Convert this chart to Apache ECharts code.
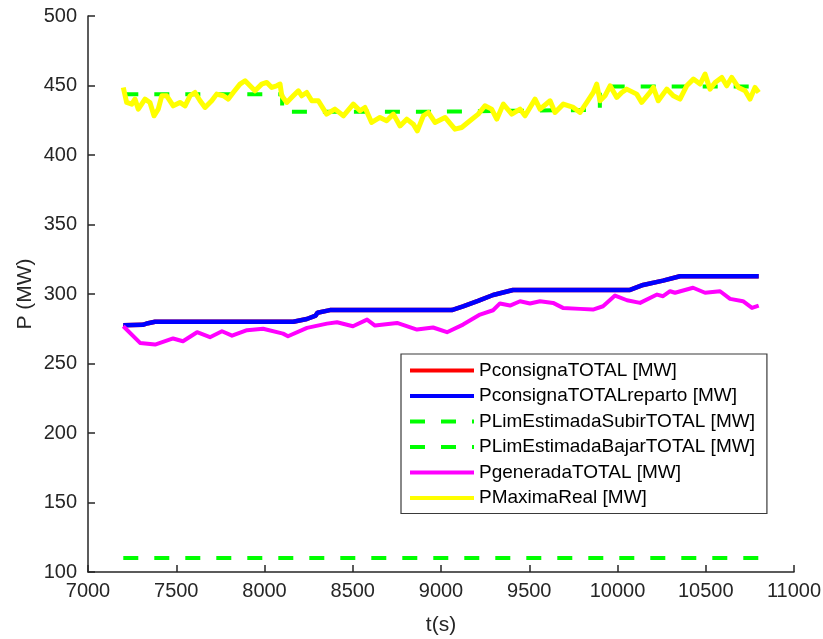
<!DOCTYPE html>
<html>
<head>
<meta charset="utf-8">
<script src="https://cdn.jsdelivr.net/npm/echarts@6/dist/echarts.min.js"></script>
<style>
  html, body { margin: 0; padding: 0; background: #fff; }
  #chart { width: 823px; height: 639px; }
</style>
</head>
<body>
<div id="chart"></div>
<script>
// Axis ticks
const xTicks = [7000, 7500, 8000, 8500, 9000, 9500, 10000, 10500, 11000];
const yTicks = [100, 150, 200, 250, 300, 350, 400, 450, 500];

// Setpoint (total) and distributed setpoint: identical curves, t in s, P in MW
const tConsigna = [7200, 7310, 7340, 7380, 8163, 8240, 8290, 8300, 8371, 9061, 9125, 9210, 9295, 9408, 10071, 10145, 10258, 10354, 10800];
const pConsigna = [277.5, 277.8, 279, 280, 280, 282, 284.5, 286.5, 288.4, 288.4, 291.1, 295, 299.3, 302.9, 302.9, 306.5, 309.6, 312.8, 312.8];
const pConsignaReparto = [277.5, 277.8, 279, 280, 280, 282, 284.5, 286.5, 288.4, 288.4, 291.1, 295, 299.3, 302.9, 302.9, 306.5, 309.6, 312.8, 312.8];

// Estimated upper limit, updated every 15 minutes
const tLimSubir = [7200, 8100, 9000, 9900, 10800];
const pLimSubir = [443.7, 431.2, 432.5, 449.2, 449.2];

// Estimated lower limit
const tLimBajar = [7200, 10800];
const pLimBajar = [110, 110];

// Generated power
const tGenerada = [7200, 7295, 7380, 7482, 7538, 7618, 7691, 7759, 7816, 7901, 7992, 8105, 8133, 8241, 8354, 8411, 8501, 8581, 8626, 8751, 8864, 8955, 9034, 9125, 9221, 9295, 9334, 9391, 9448, 9504, 9561, 9635, 9691, 9788, 9861, 9918, 9986, 10054, 10128, 10224, 10258, 10298, 10326, 10428, 10496, 10581, 10638, 10711, 10762, 10800];
const pGenerada = [276.8, 264.8, 263.6, 268, 266, 272.5, 268.9, 273.2, 270, 274, 275, 271.5, 269.6, 275.6, 278.7, 279.7, 276.8, 281.6, 277.3, 279.2, 274.4, 275.9, 272.5, 278, 285.2, 288.3, 293.2, 291.7, 294.8, 293.2, 294.8, 293.6, 290, 289.3, 288.8, 291.2, 298.9, 295.5, 293.6, 299.6, 298.4, 302, 300.9, 304.5, 300.9, 302, 296.5, 294.8, 290, 291.7];

// Real maximum available power
const tMaxima = [7200, 7219, 7248, 7266, 7285, 7323, 7351, 7374, 7398, 7418, 7446, 7483, 7521, 7550, 7578, 7606, 7635, 7663, 7701, 7729, 7767, 7795, 7823, 7861, 7890, 7918, 7946, 7984, 8013, 8041, 8069, 8088, 8098, 8126, 8163, 8192, 8211, 8239, 8268, 8305, 8352, 8399, 8447, 8503, 8541, 8569, 8607, 8654, 8692, 8730, 8768, 8806, 8843, 8866, 8900, 8928, 8966, 9023, 9079, 9117, 9164, 9211, 9249, 9287, 9316, 9353, 9401, 9448, 9476, 9533, 9561, 9618, 9646, 9693, 9750, 9788, 9826, 9863, 9882, 9901, 9929, 9958, 9996, 10024, 10052, 10109, 10137, 10184, 10203, 10231, 10279, 10316, 10354, 10392, 10430, 10468, 10496, 10524, 10553, 10591, 10619, 10647, 10685, 10723, 10751, 10779, 10800];
const pMaxima = [448.6, 437.8, 436.6, 440.2, 433, 440.2, 437.8, 428.2, 433, 442.6, 442.6, 435.4, 437.8, 435.4, 442.6, 445, 439, 434.2, 439, 443.8, 442.6, 440.2, 445, 451, 453.4, 449.8, 446.2, 451, 452.2, 448.6, 449.8, 451, 442.6, 437.8, 442.6, 446.2, 442.6, 445, 439, 439, 429.4, 433, 428.2, 436.6, 431.8, 434.2, 423.4, 427, 424.6, 429.4, 420.9, 425.8, 422.2, 417.3, 428.2, 430.6, 423.4, 427, 418.6, 419.8, 424.6, 429.4, 435.4, 433, 425.8, 436.6, 429.4, 433, 428.2, 440.2, 433, 439, 430.6, 436.6, 434.2, 430.6, 437.8, 445, 451, 439, 442.6, 449.8, 441.4, 445, 447.4, 443.8, 437.8, 445, 448.6, 439, 447.4, 442.6, 440.2, 449.8, 454.6, 451, 458.2, 447.4, 452.2, 455.8, 449.8, 455.8, 448.6, 446.2, 440.2, 448.6, 445];

const zip = (t, v) => t.map((x, i) => [x, v[i]]);

const FONT = '"Liberation Sans", Arial, Helvetica, sans-serif';
const AXIS_COLOR = '#262626';

const chart = echarts.init(document.getElementById('chart'), null, { renderer: 'canvas' });

chart.setOption({
  animation: false,
  backgroundColor: '#ffffff',
  grid: { left: 88, right: 29, top: 16, bottom: 67, containLabel: false, outerBoundsMode: 'none' },
  xAxis: {
    type: 'value',
    min: xTicks[0],
    max: xTicks[xTicks.length - 1],
    interval: xTicks[1] - xTicks[0],
    name: 't(s)',
    nameLocation: 'middle',
    nameGap: 43,
    nameMoveOverlap: false,
    nameTextStyle: { fontFamily: FONT, fontSize: 21, color: AXIS_COLOR },
    axisLine: { show: true, onZero: false, lineStyle: { color: AXIS_COLOR, width: 1.5 } },
    axisTick: { show: true, inside: true, length: 7, lineStyle: { color: AXIS_COLOR, width: 1.5 } },
    axisLabel: { fontFamily: FONT, fontSize: 20, color: AXIS_COLOR, margin: 9, formatter: v => String(v) },
    splitLine: { show: false }
  },
  yAxis: {
    type: 'value',
    min: yTicks[0],
    max: yTicks[yTicks.length - 1],
    interval: yTicks[1] - yTicks[0],
    name: 'P (MW)',
    nameLocation: 'middle',
    nameGap: 52,
    nameMoveOverlap: false,
    nameTextStyle: { fontFamily: FONT, fontSize: 21, color: AXIS_COLOR },
    axisLine: { show: true, onZero: false, lineStyle: { color: AXIS_COLOR, width: 1.5 } },
    axisTick: { show: true, inside: true, length: 7, lineStyle: { color: AXIS_COLOR, width: 1.5 } },
    axisLabel: { fontFamily: FONT, fontSize: 20, color: AXIS_COLOR, margin: 11, formatter: v => String(v) },
    splitLine: { show: false }
  },
  legend: {
    orient: 'vertical',
    left: 401,
    top: 354,
    padding: [7, 12, 6, 7],
    itemWidth: 64,
    itemHeight: 20,
    itemGap: 6.5,
    backgroundColor: '#ffffff',
    borderColor: '#3a3a3a',
    borderWidth: 1.2,
    borderRadius: 0,
    lineStyle: { width: 4 },
    itemStyle: { opacity: 0 },
    textStyle: { fontFamily: FONT, fontSize: 19, color: '#000000' },
    data: [
      'PconsignaTOTAL [MW]',
      'PconsignaTOTALreparto [MW]',
      'PLimEstimadaSubirTOTAL [MW]',
      'PLimEstimadaBajarTOTAL [MW]',
      'PgeneradaTOTAL [MW]',
      'PMaximaReal [MW]'
    ]
  },
  series: [
    {
      name: 'PconsignaTOTAL [MW]', type: 'line', symbol: 'none',
      data: zip(tConsigna, pConsigna),
      lineStyle: { color: '#ff0000', width: 4.5 }, itemStyle: { color: '#ff0000' }
    },
    {
      name: 'PconsignaTOTALreparto [MW]', type: 'line', symbol: 'none',
      data: zip(tConsigna, pConsignaReparto),
      lineStyle: { color: '#0000ff', width: 4.5 }, itemStyle: { color: '#0000ff' }
    },
    {
      name: 'PLimEstimadaSubirTOTAL [MW]', type: 'line', symbol: 'none', step: 'end',
      data: zip(tLimSubir, pLimSubir),
      lineStyle: { color: '#00ff00', width: 4, type: [15, 16] }, itemStyle: { color: '#00ff00' }
    },
    {
      name: 'PLimEstimadaBajarTOTAL [MW]', type: 'line', symbol: 'none',
      data: zip(tLimBajar, pLimBajar),
      lineStyle: { color: '#00ff00', width: 4, type: [15, 16] }, itemStyle: { color: '#00ff00' }
    },
    {
      name: 'PgeneradaTOTAL [MW]', type: 'line', symbol: 'none',
      data: zip(tGenerada, pGenerada),
      lineStyle: { color: '#ff00ff', width: 4, join: 'round' }, itemStyle: { color: '#ff00ff' }
    },
    {
      name: 'PMaximaReal [MW]', type: 'line', symbol: 'none',
      data: zip(tMaxima, pMaxima),
      lineStyle: { color: '#ffff00', width: 5, join: 'round' }, itemStyle: { color: '#ffff00' }
    }
  ]
});
</script>
</body>
</html>
